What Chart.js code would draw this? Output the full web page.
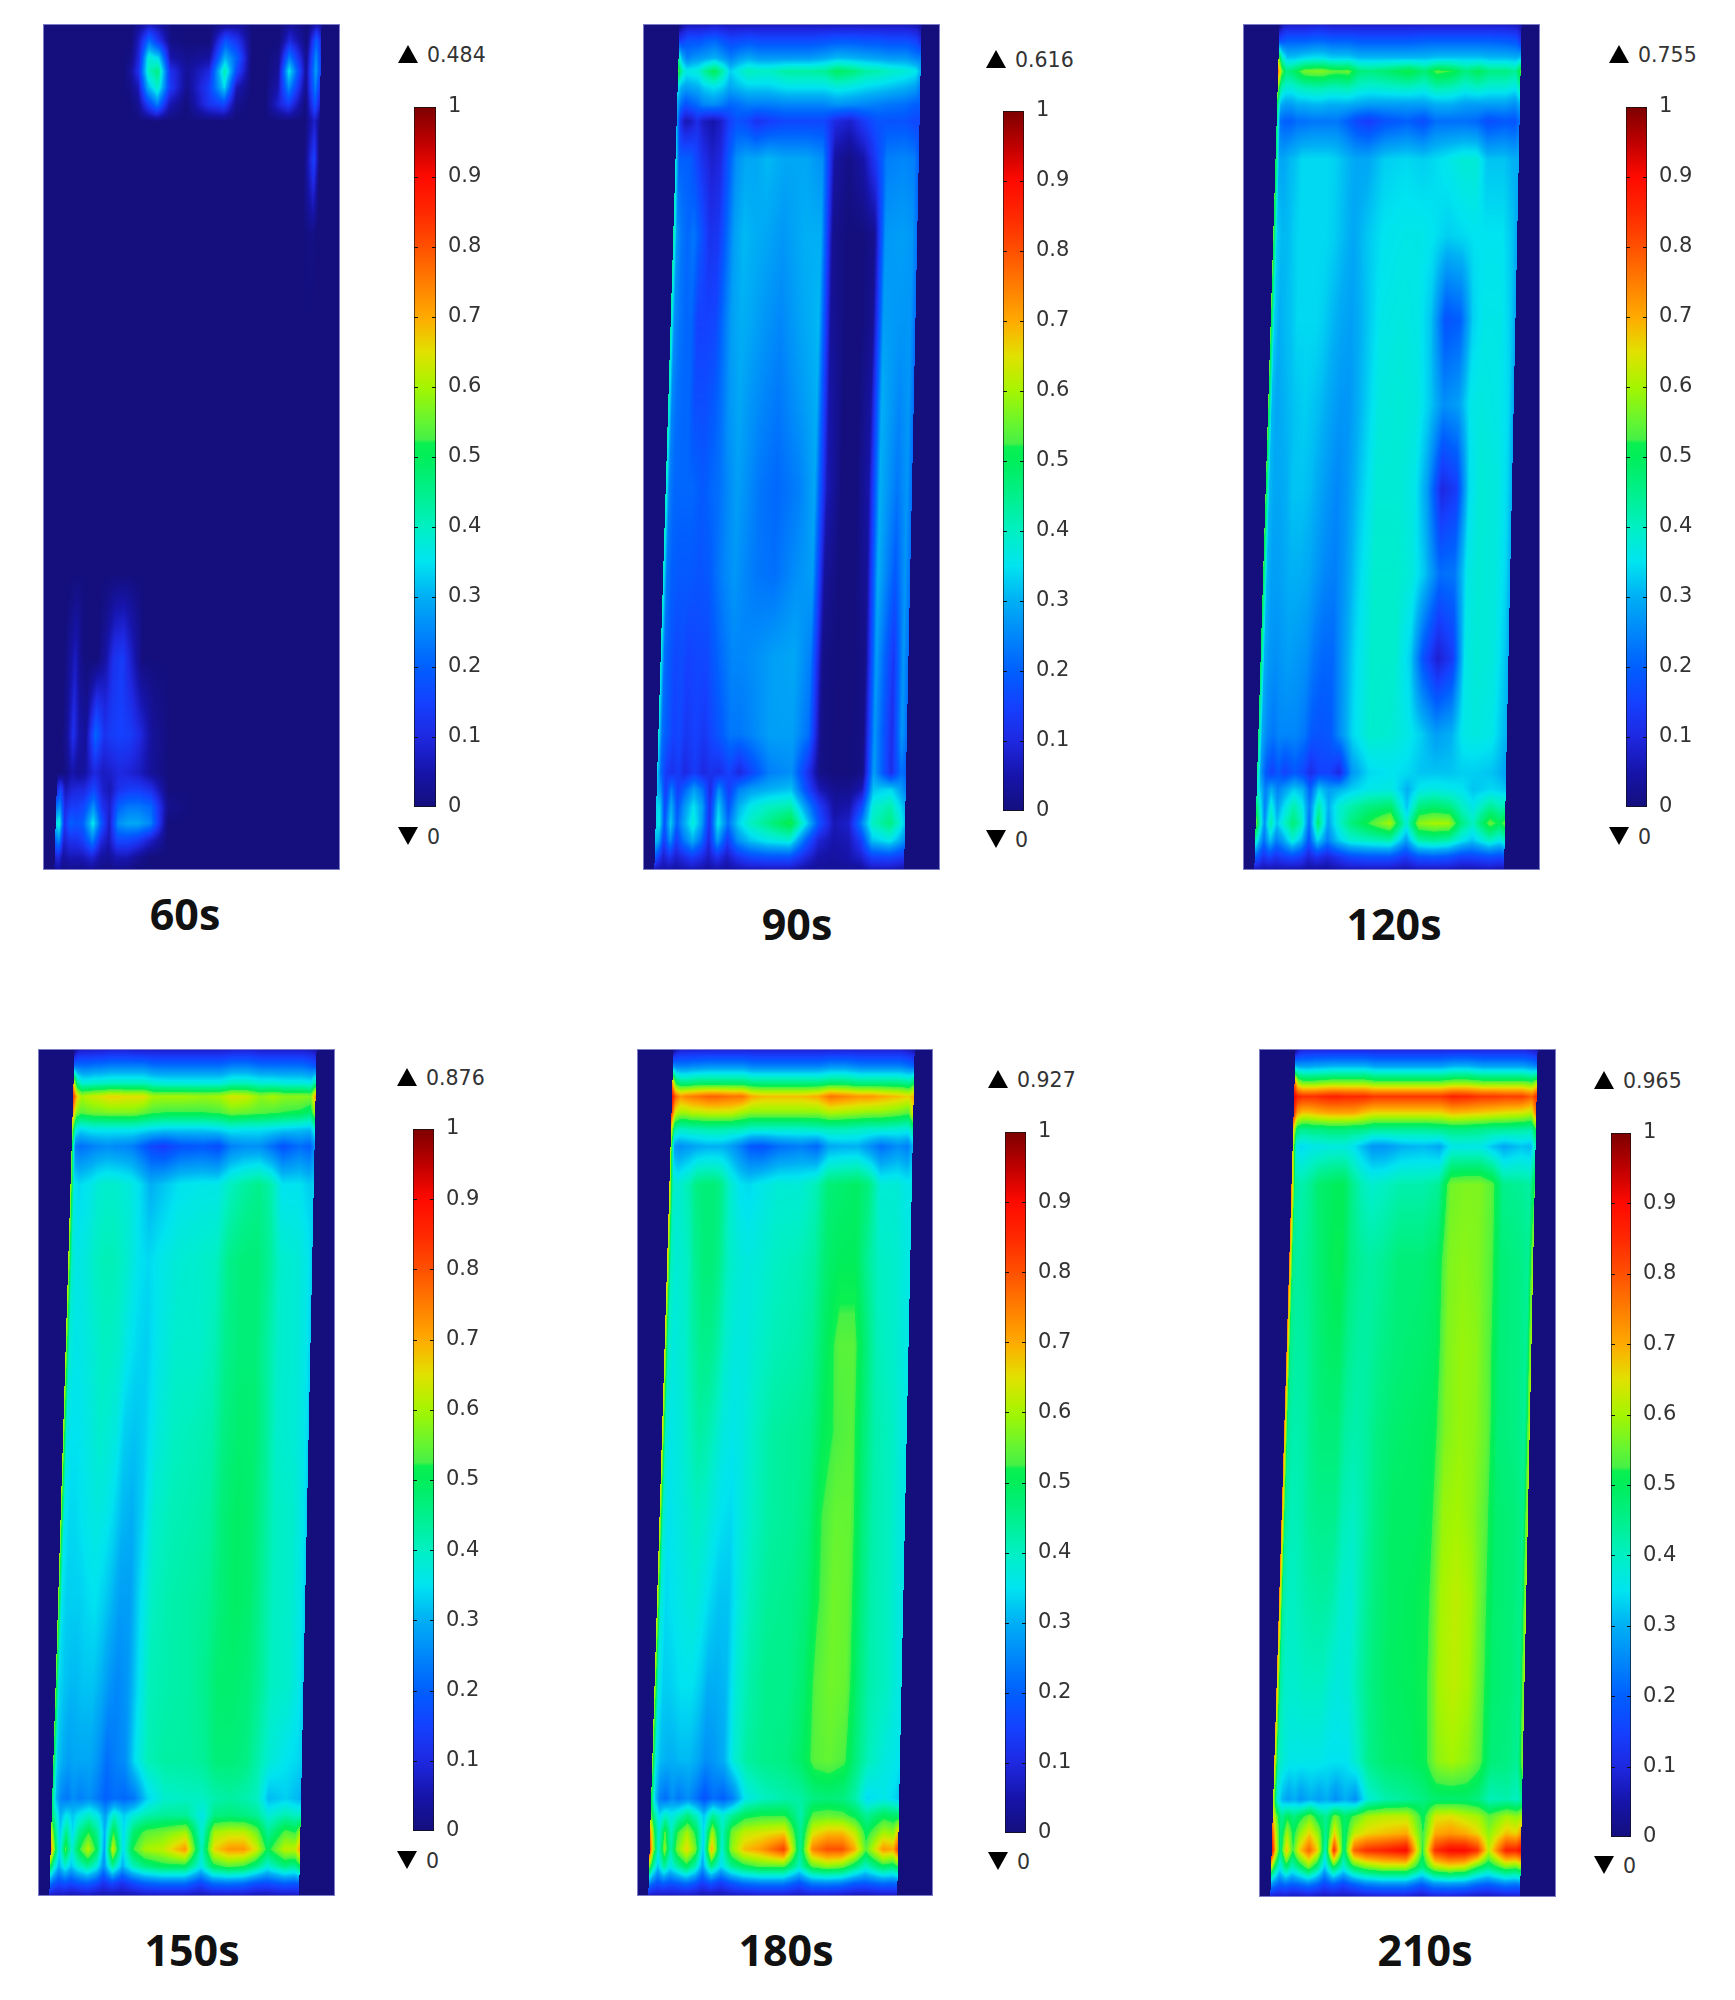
<!DOCTYPE html>
<html>
  <head>
    <meta charset="utf-8" />
    <script src="https://cdn.jsdelivr.net/npm/chart.js"></script>
    <style>
      body { margin: 0; background: #fff; }
      #page { position: relative; width: 1735px; height: 2000px; overflow: hidden; }
      canvas { position: absolute; }
      .time { position: absolute; font: 700 43px "Open Sans", sans-serif; color: #111; transform: translate(-50%, -50%); }
      .extreme { position: absolute; font: 20.5px "DejaVu Sans", sans-serif; color: #333; transform: translateY(-50%); }
      .up, .down { position: absolute; width: 0; height: 0; border-left: 10.5px solid transparent; border-right: 10.5px solid transparent; transform: translateY(-50%); }
      .up { border-bottom: 18px solid #000; }
      .down { border-top: 18px solid #000; }
    </style>
  </head>
  <body>
    <div id="page"></div>
    <script>
      const timeLabels = ["60s", "90s", "120s", "150s", "180s", "210s"];
      const maxValues = ["0.484", "0.616", "0.755", "0.876", "0.927", "0.965"];
      const minValues = ["0", "0", "0", "0", "0", "0"];
      const barTicks = [0, 0.1, 0.2, 0.3, 0.4, 0.5, 0.6, 0.7, 0.8, 0.9, 1];

      // grid lines of the sampled field: across the slanted strip, down the panel
      const colFrac = [0, 0.015, 0.035, 0.06, 0.085, 0.11, 0.15, 0.185, 0.215, 0.25, 0.29, 0.33, 0.38, 0.45, 0.54, 0.605, 0.655, 0.715, 0.775, 0.825, 0.87, 0.94, 0.98, 1];
      const rowFrac = [0, 0.02, 0.04, 0.056, 0.075, 0.095, 0.115, 0.16, 0.25, 0.35, 0.45, 0.55, 0.65, 0.75, 0.84, 0.885, 0.905, 0.925, 0.945, 0.965, 0.985, 1];

      // field values, in hundredths of the colour scale
      const field60 = [
        [0,0,0,0,0,0,0,0,0,3,6,4,0,0,0,2,3,0,0,0,3,0,5,3],
        [0,0,0,0,0,0,0,0,0,8,22,12,1,0,0,18,12,0,0,0,10,0,20,10],
        [0,0,0,0,0,0,0,0,1,10,38,34,5,2,4,30,20,0,0,2,24,2,26,14],
        [0,0,0,0,0,0,0,0,3,12,40,46,12,3,10,42,16,0,0,3,36,3,28,16],
        [0,0,0,0,0,0,0,0,1,6,30,40,14,2,14,34,6,0,0,5,26,2,24,12],
        [0,0,0,0,0,0,0,0,0,2,14,24,6,0,12,16,2,0,0,8,14,0,18,8],
        [0,0,0,0,0,0,0,0,0,0,0,0,0,0,0,0,0,0,0,0,0,0,8,2],
        [0,0,0,0,0,0,0,0,0,0,0,0,0,0,0,0,0,0,0,0,0,0,15,3],
        [0,0,0,0,0,0,0,0,0,0,0,0,0,0,0,0,0,0,0,0,0,0,1,0],
        [0,0,0,0,0,0,0,0,0,0,0,0,0,0,0,0,0,0,0,0,0,0,0,0],
        [0,0,0,0,0,0,0,0,0,0,0,0,0,0,0,0,0,0,0,0,0,0,0,0],
        [0,0,0,0,0,0,0,0,0,0,0,0,0,0,0,0,0,0,0,0,0,0,0,0],
        [0,0,0,0,0,0,0,0,0,0,0,0,0,0,0,0,0,0,0,0,0,0,0,0],
        [0,0,3,7,1,0,0,5,12,14,7,0,0,0,0,0,0,0,0,0,0,0,0,0],
        [0,0,3,12,5,3,21,12,14,15,14,10,3,0,0,0,0,0,0,0,0,0,0,0],
        [0,0,1,5,3,4,10,7,8,10,9,7,3,0,0,0,0,0,0,0,0,0,0,0],
        [10,16,6,9,10,10,16,8,6,12,14,14,11,0,0,0,0,0,0,0,0,0,0,0],
        [22,26,10,14,14,16,26,12,8,20,23,23,21,2,0,0,0,0,0,0,0,0,0,0],
        [34,38,12,20,18,20,36,18,7,26,29,29,25,0,0,0,0,0,0,0,0,0,0,0],
        [20,26,8,12,12,14,24,10,6,16,16,14,8,0,0,0,0,0,0,0,0,0,0,0],
        [8,10,4,6,6,6,9,4,3,6,6,3,0,0,0,0,0,0,0,0,0,0,0,0],
        [2,5,1,2,2,2,3,1,1,2,1,0,0,0,0,0,0,0,0,0,0,0,0,0]
      ];
      const field90 = [
        [0,4,6,6,6,6,7,6,6,6,6,6,6,6,6,6,6,6,6,6,6,6,5,3],
        [14,15,18,18,18,20,21,18,16,17,18,17,17,17,17,18,19,19,18,18,17,17,15,10],
        [42,30,24,26,27,28,30,27,24,27,29,27,27,27,27,29,31,30,29,28,27,27,24,24],
        [55,42,36,37,38,44,50,42,33,37,41,40,40,43,43,44,49,47,43,42,40,38,36,30],
        [36,30,28,29,30,33,35,33,29,31,33,33,33,35,35,35,37,36,34,33,32,30,28,24],
        [30,22,18,20,22,25,26,24,21,22,24,24,24,25,25,25,27,26,25,24,23,22,20,20],
        [30,12,6,7,11,7,5,8,14,18,16,12,14,16,16,16,10,8,14,18,18,18,16,16],
        [38,20,20,20,16,12,8,10,18,26,29,29,31,29,29,26,4,1,5,14,24,25,24,20],
        [44,27,23,21,23,19,12,13,20,28,31,30,29,27,30,30,2,0,0,2,27,28,27,22],
        [42,26,23,21,21,15,15,16,22,28,30,29,27,25,29,31,3,0,0,2,28,27,27,22],
        [42,25,22,21,21,17,17,19,22,27,29,27,25,23,27,30,5,0,0,4,30,25,27,22],
        [41,24,21,21,21,21,19,21,22,25,28,26,23,21,24,29,6,0,0,5,30,23,27,22],
        [40,23,20,19,19,19,18,19,22,25,27,25,23,22,26,28,3,0,0,3,30,19,27,22],
        [39,22,19,16,17,15,16,16,19,22,25,25,26,28,29,24,1,0,0,1,28,13,27,22],
        [38,22,19,15,16,13,15,13,16,19,23,23,25,28,28,22,1,0,0,1,27,11,27,22],
        [34,21,14,12,14,10,14,10,12,11,15,10,16,24,26,12,1,0,0,1,28,11,22,20],
        [32,27,14,24,14,20,28,22,10,26,14,24,28,30,32,16,6,2,2,6,32,34,28,24],
        [34,34,16,30,18,26,35,28,12,33,18,30,36,40,42,26,14,4,5,16,38,42,34,30],
        [34,36,18,33,20,28,38,28,12,36,22,33,40,45,52,34,18,6,8,24,40,46,38,32],
        [32,29,14,26,14,22,30,22,10,28,14,26,32,36,38,20,9,5,6,14,32,36,30,26],
        [20,14,8,12,8,10,14,11,7,12,7,12,16,18,18,10,5,4,5,8,15,16,14,13],
        [6,5,5,5,4,5,6,5,4,5,4,5,6,6,6,4,3,3,3,3,6,6,5,4]
      ];
      const field120 = [
        [0,6,7,7,7,7,8,8,7,7,7,7,7,7,7,7,7,7,7,7,7,7,6,4],
        [17,18,20,20,20,20,21,21,20,20,20,19,19,19,19,20,20,20,20,20,20,19,18,12],
        [58,40,32,32,33,34,35,35,33,33,33,31,31,31,31,31,32,32,32,32,31,31,30,32],
        [76,56,46,48,52,56,57,57,55,54,55,47,46,48,52,47,54,52,46,50,46,46,44,54],
        [60,42,38,38,40,41,42,42,41,41,42,39,38,39,40,38,42,41,38,40,38,38,36,42],
        [50,30,28,28,30,30,31,31,30,30,30,29,28,28,28,28,30,30,28,28,28,28,26,30],
        [48,22,20,20,22,22,23,23,23,23,20,16,14,18,20,17,22,22,22,21,17,19,18,22],
        [52,29,29,31,32,34,34,34,34,33,31,29,29,33,34,33,34,36,38,38,32,32,30,30],
        [55,33,31,31,33,34,34,34,34,33,31,29,32,35,36,36,35,33,34,35,35,35,32,29],
        [55,33,30,31,32,34,34,34,33,31,29,28,31,36,37,36,32,18,20,33,36,36,33,29],
        [55,31,29,30,31,32,33,32,31,29,27,27,31,37,38,37,33,26,28,36,37,36,34,29],
        [54,31,29,29,30,32,32,31,29,27,25,27,32,38,38,36,28,10,14,34,38,37,34,30],
        [53,31,28,28,29,30,30,29,27,25,24,27,33,39,39,37,32,22,23,36,38,37,34,30],
        [50,30,27,26,27,28,27,26,23,21,21,27,34,39,39,33,18,8,14,36,38,37,33,30],
        [48,29,25,23,25,25,25,23,19,18,19,26,34,39,38,36,33,28,30,36,37,36,32,30],
        [44,27,19,15,19,15,19,16,11,15,15,10,27,34,35,34,32,32,32,33,33,32,30,28],
        [40,32,24,30,24,28,33,30,20,33,28,30,33,36,37,30,36,37,36,35,32,34,33,32],
        [48,38,24,38,28,34,42,36,24,42,30,38,42,46,48,32,46,48,46,40,36,44,41,42],
        [58,42,26,42,32,38,47,40,22,48,28,38,46,52,60,38,58,60,60,46,40,55,50,55],
        [42,32,22,32,24,28,38,31,18,34,24,32,38,40,42,28,42,44,42,36,32,40,36,40],
        [20,17,12,15,12,14,16,14,9,12,9,12,16,18,18,13,18,19,18,15,15,17,16,17],
        [6,6,5,5,5,5,5,5,4,4,4,5,6,6,6,5,6,6,6,5,5,6,5,5]
      ];
      const field150 = [
        [0,6,7,7,7,7,8,8,8,7,7,7,7,7,7,7,8,8,7,7,7,7,6,4],
        [22,22,22,22,23,23,24,24,24,24,24,22,22,22,22,22,24,24,22,22,22,22,20,18],
        [68,44,38,38,39,39,40,40,40,40,40,38,37,37,37,37,40,40,38,38,37,37,36,44],
        [84,68,60,62,63,64,66,66,65,65,65,60,60,60,59,60,64,63,58,60,58,58,57,72],
        [74,58,54,55,56,56,57,57,57,57,55,53,52,52,52,53,56,55,54,53,52,51,48,60],
        [60,37,34,35,36,36,36,36,36,36,35,34,33,33,33,34,36,35,35,34,33,32,31,38],
        [56,24,22,23,24,25,26,25,25,24,20,16,14,18,19,17,24,26,26,22,18,22,20,26],
        [60,36,34,35,36,38,39,39,38,37,34,30,32,35,36,36,40,43,45,42,35,35,33,33],
        [62,39,36,37,38,40,41,41,40,38,35,34,36,38,39,40,45,47,47,44,39,38,36,33],
        [62,38,36,36,37,38,40,40,39,36,34,33,36,39,39,41,45,47,47,43,39,38,36,33],
        [61,37,35,35,36,37,39,38,37,33,32,33,37,40,41,42,46,48,48,44,39,38,36,33],
        [60,36,34,34,35,36,37,36,34,31,30,33,39,41,42,43,47,49,48,44,40,39,36,33],
        [59,35,33,33,33,34,35,33,31,28,28,34,40,42,43,44,47,49,48,44,40,39,36,33],
        [57,34,32,31,31,32,32,30,27,25,27,34,41,42,43,45,48,48,47,44,40,39,36,33],
        [54,33,30,28,29,29,29,26,22,24,26,35,41,43,43,44,47,47,46,42,38,35,34,33],
        [48,31,25,23,26,24,26,23,20,22,21,23,33,39,40,40,42,43,42,40,31,33,31,30],
        [50,40,30,36,32,36,40,36,28,40,33,38,42,44,44,36,46,47,46,44,38,42,40,40],
        [64,48,32,46,34,44,52,44,30,52,34,48,54,56,60,38,60,62,62,56,44,54,52,60],
        [76,56,34,54,38,50,62,50,28,64,34,52,60,62,72,40,66,72,72,64,50,62,62,72],
        [52,40,30,38,32,38,44,38,26,44,30,40,46,50,50,36,50,54,52,46,38,46,44,50],
        [24,20,16,18,16,18,20,17,12,16,12,16,20,22,22,16,22,23,22,18,17,20,19,20],
        [7,6,6,6,5,5,6,5,5,5,5,5,6,6,6,5,6,6,6,5,5,6,6,6]
      ];
      const field180 = [
        [0,6,8,8,8,8,8,8,8,8,8,8,8,8,8,8,8,8,8,8,8,8,6,4],
        [26,24,24,24,25,25,26,26,26,26,26,24,24,24,24,24,26,26,24,24,24,24,22,20],
        [72,50,46,46,47,48,48,48,48,48,48,46,46,46,46,46,48,48,46,46,46,46,44,50],
        [90,78,72,74,75,76,78,78,77,76,76,70,68,68,68,70,76,74,72,72,70,68,66,70],
        [84,64,60,60,62,62,63,63,63,63,60,58,58,58,58,58,61,60,59,58,58,56,54,66],
        [66,43,40,40,41,41,42,42,42,41,41,39,39,39,39,40,41,41,40,39,39,38,37,44],
        [62,28,26,27,28,29,30,30,30,28,24,19,18,22,24,21,29,30,30,26,22,26,24,30],
        [66,40,38,40,42,46,47,47,45,39,35,34,36,38,38,41,47,48,49,46,38,38,36,36],
        [68,41,38,39,40,44,47,47,45,40,38,37,38,40,41,43,48,50,50,44,40,39,37,36],
        [66,40,37,38,39,42,45,45,43,39,37,37,39,41,42,44,49,54,54,47,41,39,37,36],
        [66,39,36,37,38,40,43,42,40,37,36,37,40,43,44,45,50,53,54,47,42,40,37,36],
        [64,39,35,36,37,38,40,39,37,35,34,37,40,43,44,46,52,55,55,47,42,40,37,36],
        [64,38,34,35,36,37,38,36,34,32,32,37,41,44,45,47,52,56,55,47,42,40,37,36],
        [62,37,33,33,34,35,35,33,30,30,31,38,42,45,45,48,54,56,55,47,42,40,37,36],
        [58,35,31,30,30,31,31,29,26,27,30,38,43,45,46,49,54,55,53,46,41,37,36,35],
        [52,33,24,22,26,23,26,22,18,22,20,24,36,40,42,43,46,47,46,42,34,36,34,32],
        [56,44,34,40,36,40,46,40,32,44,38,44,50,52,52,42,54,55,54,50,44,50,48,48],
        [74,54,38,54,40,52,60,50,34,60,40,56,62,64,66,44,64,68,68,62,50,60,58,68],
        [84,58,38,58,42,56,66,56,32,70,38,58,68,72,82,44,74,80,80,70,54,72,70,82],
        [58,44,32,44,36,42,50,42,28,46,34,44,50,54,54,40,54,58,56,48,40,50,48,52],
        [26,22,18,20,18,19,22,19,14,18,14,18,22,24,24,18,24,25,24,20,19,22,21,22],
        [7,6,6,6,6,6,6,6,5,5,5,6,6,7,7,6,7,7,6,5,5,6,6,6]
      ];
      const field210 = [
        [0,7,9,9,9,9,9,9,9,9,9,9,9,9,9,9,9,9,9,9,9,9,7,5],
        [30,28,28,28,29,29,30,30,30,30,30,28,28,28,28,28,30,30,28,28,28,28,26,24],
        [78,60,56,56,56,57,58,58,58,58,58,56,56,56,56,56,58,58,56,56,56,56,54,60],
        [92,86,84,84,84,85,86,86,85,85,85,83,83,83,83,83,86,85,83,83,82,82,78,84],
        [86,72,68,68,69,70,71,71,71,71,68,66,66,66,66,66,69,68,67,66,65,64,62,76],
        [68,48,45,45,46,46,47,47,47,46,46,44,44,44,44,45,46,46,45,44,44,43,42,52],
        [66,36,34,35,36,36,37,37,37,35,31,27,27,30,31,29,36,36,36,32,29,32,31,40],
        [74,44,42,43,45,48,49,50,50,45,41,39,40,42,42,44,56,57,57,54,45,44,43,52],
        [76,45,43,44,45,47,49,51,51,46,44,43,44,47,47,49,57,58,57,54,47,46,44,60],
        [76,45,43,43,44,46,48,49,49,45,43,43,45,47,48,49,57,59,58,54,47,46,44,60],
        [75,44,42,42,43,45,47,47,47,43,42,43,46,48,49,50,57,59,58,55,47,46,44,60],
        [75,44,41,41,42,44,45,45,45,41,40,42,46,49,49,51,59,60,58,54,48,47,45,60],
        [74,43,40,40,41,42,43,43,42,39,38,42,46,49,50,52,60,62,60,54,48,47,45,60],
        [72,43,39,39,39,40,40,40,38,37,38,42,46,49,50,52,60,62,60,54,48,47,45,60],
        [70,41,38,36,36,36,36,36,35,35,35,39,45,48,49,51,58,60,58,54,47,46,44,58],
        [62,38,31,28,30,27,30,28,30,26,30,26,38,42,44,46,48,48,48,46,41,42,40,44],
        [68,56,44,50,46,50,56,48,44,56,48,54,60,62,62,50,64,65,62,60,54,60,58,60],
        [82,62,46,60,50,58,66,58,44,66,48,62,66,68,70,52,70,72,70,66,58,68,66,72],
        [92,68,46,68,52,66,78,66,40,84,46,78,84,86,90,52,84,90,90,84,62,86,86,90],
        [62,48,36,48,40,46,56,46,32,50,38,50,56,60,60,46,60,64,62,52,46,56,54,58],
        [28,24,20,22,20,21,24,21,16,20,16,20,24,26,26,20,26,27,26,22,20,24,23,24],
        [8,7,7,7,6,6,7,6,6,6,6,6,7,8,8,6,8,8,7,6,6,7,7,7]
      ];
      const fields = [field60, field90, field120, field150, field180, field210];

      // where the slanted strip sits inside a panel (x scale 0..1)
      const stripTop = [0.123, 0.938];
      const stripBottom = [0.038, 0.879];

      // layout, in page pixels
      const heatBoxes = [[43, 24, 297, 846], [643, 24, 297, 846], [1243, 24, 297, 846], [38, 1049, 297, 847], [637, 1049, 296, 847], [1259, 1049, 297, 848]];
      const barBoxes = [[414, 107, 22, 700], [1003, 111, 21, 700], [1626, 107, 21, 700], [413, 1129, 21, 702], [1005, 1132, 21, 701], [1611, 1133, 20, 704]];
      const upMarks = [[398, 54], [986, 59], [1609, 54], [397, 1077], [988, 1079], [1594, 1080]];
      const downMarks = [[398, 836], [986, 839], [1609, 836], [397, 1860], [988, 1861], [1594, 1865]];
      const timeSpots = [[185, 913], [797, 923], [1394, 923], [192, 1949], [786, 1949], [1425, 1949]];

      const colourStops = [
        [0, [20, 15, 125]], [0.05, [22, 20, 170]], [0.1, [30, 40, 225]], [0.15, [20, 65, 255]], [0.2, [0, 95, 255]],
        [0.25, [0, 135, 250]], [0.3, [0, 175, 245]], [0.35, [0, 228, 240]], [0.4, [0, 240, 195]], [0.45, [0, 240, 140]],
        [0.5, [0, 238, 90]], [0.52, [10, 240, 80]], [0.525, [70, 240, 70]], [0.55, [100, 245, 50]], [0.6, [165, 245, 0]],
        [0.65, [225, 225, 0]], [0.7, [255, 170, 0]], [0.75, [255, 125, 0]], [0.8, [255, 80, 0]], [0.85, [255, 40, 0]],
        [0.9, [255, 10, 0]], [0.95, [190, 0, 0]], [1, [125, 0, 0]]
      ];

      const colourTable = [];
      for (let i = 0; i <= 1000; i++) {
        const v = i / 1000;
        let k = 0;
        while (k < colourStops.length - 2 && v > colourStops[k + 1][0]) k++;
        const [v0, c0] = colourStops[k];
        const [v1, c1] = colourStops[k + 1];
        const t = (v - v0) / (v1 - v0);
        colourTable.push([0, 1, 2].map((n) => c0[n] + (c1[n] - c0[n]) * t));
      }

      const page = document.getElementById("page");

      function addCanvas(box) {
        const canvas = document.createElement("canvas");
        canvas.width = box[2];
        canvas.height = box[3];
        canvas.style.left = box[0] + "px";
        canvas.style.top = box[1] + "px";
        page.appendChild(canvas);
        return canvas;
      }

      function addText(cls, text, x, y) {
        const el = document.createElement("div");
        el.className = cls;
        el.textContent = text;
        el.style.left = x + "px";
        el.style.top = y + "px";
        page.appendChild(el);
      }

      // paints the smooth field between the points the scatter dataset placed
      const fieldPainter = {
        id: "fieldPainter",
        beforeDatasetsDraw(chart) {
          const points = chart.getDatasetMeta(0).data;
          const values = chart.data.datasets[0].data;
          const nc = colFrac.length;
          const nr = rowFrac.length;
          const { width, height, ctx } = chart;
          const image = ctx.createImageData(width, height);
          const base = colourTable[0];
          for (let i = 0; i < image.data.length; i += 4) {
            image.data[i] = base[0];
            image.data[i + 1] = base[1];
            image.data[i + 2] = base[2];
            image.data[i + 3] = 255;
          }
          let r = 0;
          for (let py = 0; py < height; py++) {
            const cy = py + 0.5;
            while (r < nr - 2 && cy > points[(r + 1) * nc].y) r++;
            const y0 = points[r * nc].y;
            const y1 = points[(r + 1) * nc].y;
            const t = Math.min(1, Math.max(0, (cy - y0) / (y1 - y0)));
            for (let c = 0; c < nc - 1; c++) {
              const xa = points[r * nc + c].x + (points[(r + 1) * nc + c].x - points[r * nc + c].x) * t;
              const xb = points[r * nc + c + 1].x + (points[(r + 1) * nc + c + 1].x - points[r * nc + c + 1].x) * t;
              const va = values[r * nc + c].v + (values[(r + 1) * nc + c].v - values[r * nc + c].v) * t;
              const vb = values[r * nc + c + 1].v + (values[(r + 1) * nc + c + 1].v - values[r * nc + c + 1].v) * t;
              const from = Math.max(0, Math.ceil(xa - 0.5));
              const to = Math.min(width - 1, Math.ceil(xb - 0.5) - 1);
              for (let px = from; px <= to; px++) {
                const s = (px + 0.5 - xa) / (xb - xa);
                const v = va + (vb - va) * s;
                const rgb = colourTable[Math.round(Math.min(1, Math.max(0, v)) * 1000)];
                const at = (py * width + px) * 4;
                image.data[at] = rgb[0];
                image.data[at + 1] = rgb[1];
                image.data[at + 2] = rgb[2];
              }
            }
          }
          const buffer = document.createElement("canvas");
          buffer.width = width;
          buffer.height = height;
          buffer.getContext("2d").putImageData(image, 0, 0);
          ctx.save();
          ctx.drawImage(buffer, 0, 0);
          ctx.filter = "blur(0.6px)";
          ctx.drawImage(buffer, 0, 0);
          ctx.restore();
          ctx.save();
          ctx.strokeStyle = "rgba(150,150,215,0.8)";
          ctx.lineWidth = 1;
          ctx.strokeRect(0.5, 0.5, width - 1, height - 1);
          ctx.restore();
        },
      };

      // short inner marks on both sides of the colour bar
      const barTickMarks = {
        id: "barTickMarks",
        afterDatasetsDraw(chart) {
          const { ctx, chartArea, scales } = chart;
          ctx.save();
          ctx.strokeStyle = "#111";
          ctx.lineWidth = 1;
          barTicks.slice(1, -1).forEach((tick) => {
            const y = Math.round(scales.y.getPixelForValue(tick)) + 0.5;
            ctx.beginPath();
            ctx.moveTo(chartArea.left, y);
            ctx.lineTo(chartArea.left + 4, y);
            ctx.moveTo(chartArea.right - 4, y);
            ctx.lineTo(chartArea.right, y);
            ctx.stroke();
          });
          ctx.restore();
        },
      };

      fields.forEach((field, index) => {
        const cells = [];
        field.forEach((row, r) => {
          const y = rowFrac[r];
          const left = stripTop[0] + (stripBottom[0] - stripTop[0]) * y;
          const right = stripTop[1] + (stripBottom[1] - stripTop[1]) * y;
          row.forEach((value, c) => {
            cells.push({ x: left + colFrac[c] * (right - left), y, v: value / 100 });
          });
        });

        new Chart(addCanvas(heatBoxes[index]), {
          type: "scatter",
          data: { datasets: [{ data: cells, pointRadius: 0 }] },
          options: {
            responsive: false,
            animation: false,
            plugins: { legend: { display: false }, tooltip: { enabled: false } },
            scales: {
              x: { type: "linear", min: 0, max: 1, display: false },
              y: { type: "linear", min: 0, max: 1, reverse: true, display: false },
            },
          },
          plugins: [fieldPainter],
        });

        const bar = barBoxes[index];
        const pad = 16;
        const labelRoom = 64;
        new Chart(addCanvas([bar[0], bar[1] - pad, bar[2] + labelRoom, bar[3] + pad * 2]), {
          type: "bar",
          data: {
            labels: [timeLabels[index]],
            datasets: [
              {
                data: [[0, 1]],
                barPercentage: 1,
                categoryPercentage: 1,
                borderColor: "#111",
                borderWidth: 1,
                borderSkipped: false,
                backgroundColor(context) {
                  const area = context.chart.chartArea;
                  if (!area) return "#000";
                  const gradient = context.chart.ctx.createLinearGradient(0, area.bottom, 0, area.top);
                  colourStops.forEach(([v, c]) => gradient.addColorStop(v, `rgb(${c[0]},${c[1]},${c[2]})`));
                  return gradient;
                },
              },
            ],
          },
          options: {
            responsive: false,
            animation: false,
            layout: { autoPadding: false, padding: { top: pad, bottom: pad } },
            plugins: { legend: { display: false }, tooltip: { enabled: false } },
            scales: {
              x: { display: false },
              y: {
                position: "right",
                min: 0,
                max: 1,
                // the bar has to fill the padded box exactly, so no extra room for the end labels
                afterFit(axis) {
                  axis.width = labelRoom;
                  axis.paddingTop = 0;
                  axis.paddingBottom = 0;
                },
                afterBuildTicks(axis) {
                  axis.ticks = barTicks.map((value) => ({ value }));
                },
                grid: { display: false, drawTicks: false },
                border: { display: false },
                ticks: {
                  padding: 12,
                  color: "#333",
                  autoSkip: false,
                  maxRotation: 0,
                  font: { family: "DejaVu Sans", size: 21 },
                  callback: (value) => String(value),
                },
              },
            },
          },
          plugins: [barTickMarks],
        });

        const up = document.createElement("div");
        up.className = "up";
        up.style.left = upMarks[index][0] + "px";
        up.style.top = upMarks[index][1] + "px";
        page.appendChild(up);
        addText("extreme", maxValues[index], upMarks[index][0] + 29, upMarks[index][1] + 1);

        const down = document.createElement("div");
        down.className = "down";
        down.style.left = downMarks[index][0] + "px";
        down.style.top = downMarks[index][1] + "px";
        page.appendChild(down);
        addText("extreme", minValues[index], downMarks[index][0] + 29, downMarks[index][1] + 1);

        addText("time", timeLabels[index], timeSpots[index][0], timeSpots[index][1]);
      });
    </script>
  </body>
</html>
